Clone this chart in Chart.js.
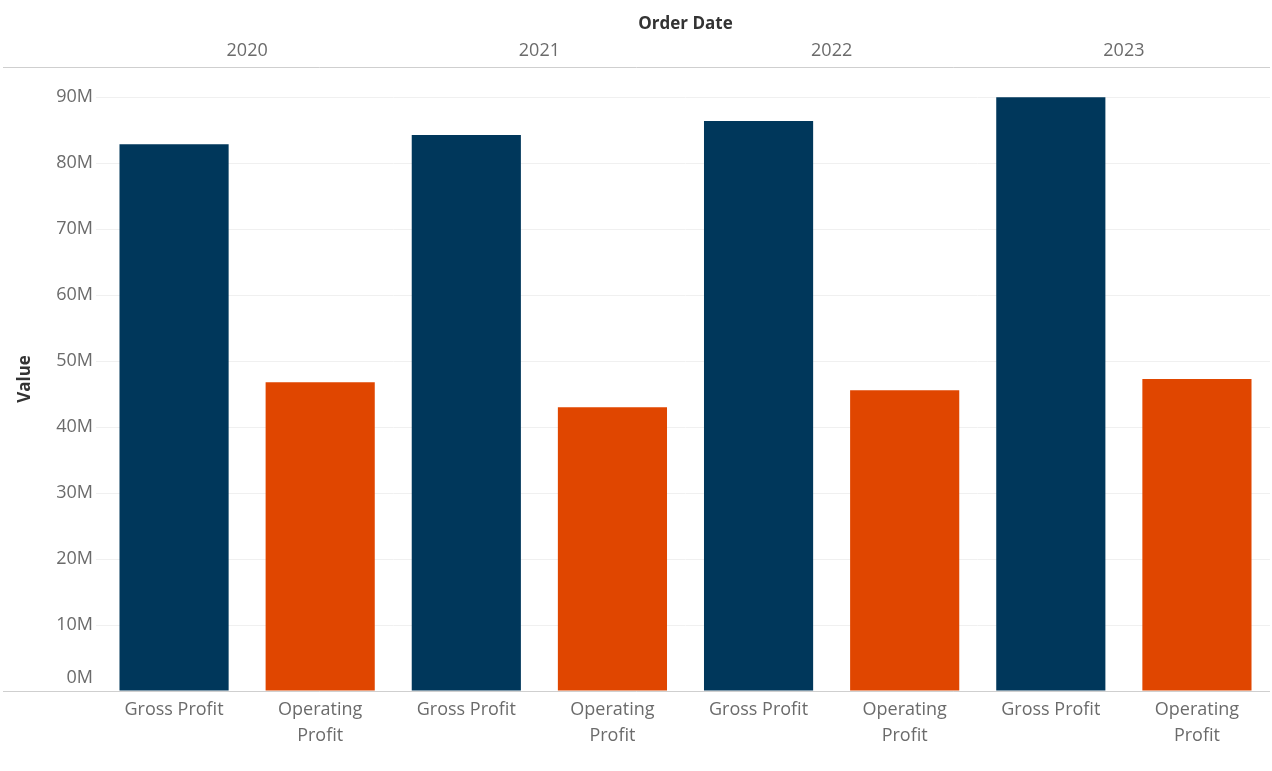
<!DOCTYPE html>
<html>
<head>
<meta charset="utf-8">
<script src="https://cdn.jsdelivr.net/npm/chart.js@4.4.1/dist/chart.umd.min.js"></script>
<style>
  html, body { margin: 0; padding: 0; background: #fff; }
  #wrap { width: 1272px; height: 771px; position: relative; }
</style>
</head>
<body>
<div id="wrap"><canvas id="chart"></canvas></div>
<script>
// --- Data ---
const years = ['2020', '2021', '2022', '2023'];
const measures = ['Gross Profit', 'Operating Profit'];
const grossProfit = [82.9, 84.3, 86.4, 90.0];      // millions
const operatingProfit = [46.8, 43.0, 45.6, 47.3];  // millions
const yTicks = [0, 10, 20, 30, 40, 50, 60, 70, 80, 90];

const NAVY = '#00375b';
const ORANGE = '#e04600';

// one category per (year, measure) pair
const labels = [];
const values = [];
const colors = [];
years.forEach((y, i) => {
    labels.push(['Gross Profit']);
    values.push(grossProfit[i]);
    colors.push(NAVY);
    labels.push(['Operating', 'Profit']);
    values.push(operatingProfit[i]);
    colors.push(ORANGE);
});

// header / baseline rules that run under the axis column too
const frameLines = {
    id: 'frameLines',
    beforeDraw(chart) {
        // lift the bottom value label above the baseline, like the original
        const y = chart.scales.y;
        const items = y.getLabelItems(chart.chartArea);
        items.forEach(it => {
            if (it.label === '0M') it.options.translation[1] -= 13;
        });
    },
    afterDraw(chart) {
        const { ctx, chartArea } = chart;
        ctx.save();
        ctx.strokeStyle = '#cfcfcf';
        ctx.lineWidth = 1;
        ctx.beginPath();
        ctx.moveTo(3, chartArea.top + 0.5);
        ctx.lineTo(chartArea.right, chartArea.top + 0.5);
        ctx.moveTo(3, chartArea.bottom + 0.5);
        ctx.lineTo(chartArea.right, chartArea.bottom + 0.5);
        ctx.stroke();
        ctx.restore();
    }
};

const tickFont = { family: '"Open Sans", sans-serif', size: 18 };
const titleFont = { family: '"Open Sans", sans-serif', size: 17, weight: 'bold' };

new Chart(document.getElementById('chart'), {
    type: 'bar',
    data: {
        labels: labels,
        datasets: [{
            data: values,
            backgroundColor: colors,
            categoryPercentage: 1,
            barPercentage: 0.747
        }]
    },
    options: {
        responsive: true,
        maintainAspectRatio: false,
        animation: false,
        layout: { padding: { right: 2, left: 0, top: 0, bottom: 0 } },
        plugins: { legend: { display: false }, tooltip: { enabled: false } },
        scales: {
            x: {
                position: 'bottom',
                grid: { display: false, drawTicks: false },
                border: { display: false },
                ticks: { color: '#6b6b6b', font: { ...tickFont, lineHeight: 1.44 }, padding: 6, maxRotation: 0, autoSkip: false },
                afterFit: s => { s.height = 80; }
            },
            years: {
                type: 'category',
                position: 'top',
                labels: years,
                offset: true,
                grid: { display: false, drawTicks: false },
                border: { display: false },
                ticks: { color: '#6b6b6b', font: tickFont, padding: 5 },
                title: { display: true, text: 'Order Date', color: '#333', font: titleFont, padding: { top: 14, bottom: 0 } },
                afterFit: s => { s.height = 67; }
            },
            y: {
                min: 0,
                max: 94.6,
                grid: { color: '#f0f0f0', tickLength: 5, drawTicks: true },
                border: { display: false },
                afterBuildTicks: s => { s.ticks = yTicks.map(v => ({ value: v })); },
                ticks: {
                    color: '#6b6b6b',
                    font: tickFont,
                    padding: 3,
                    callback: v => v + 'M'
                },
                title: { display: true, text: 'Value', color: '#333', font: titleFont, padding: { top: 15, bottom: 0 } },
                afterFit: s => { s.width = 101; }
            }
        }
    },
    plugins: [frameLines]
});
</script>
</body>
</html>
